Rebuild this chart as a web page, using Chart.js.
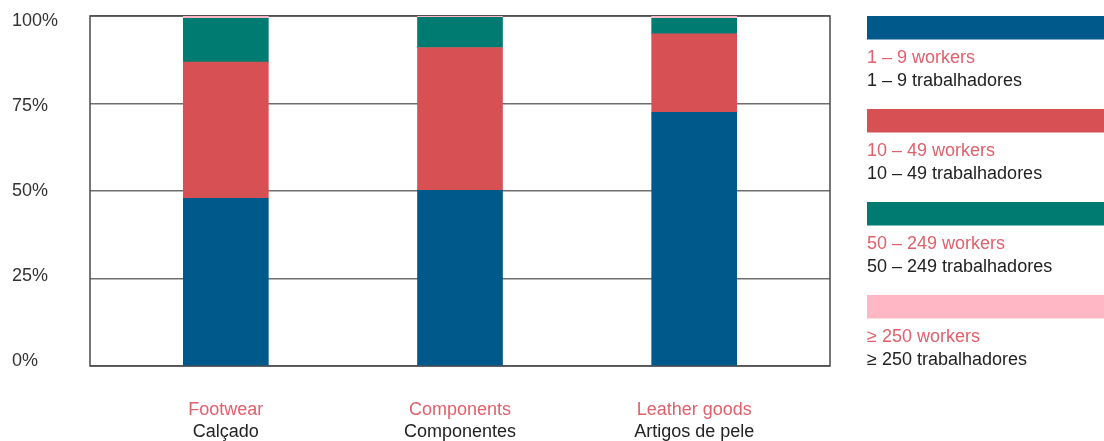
<!DOCTYPE html>
<html>
<head>
<meta charset="utf-8">
<title>Company size by sector</title>
<script src="https://cdn.jsdelivr.net/npm/chart.js@4/dist/chart.umd.min.js"></script>
<style>
  html, body { margin: 0; padding: 0; background: #ffffff; }
  #wrap { width: 1104px; height: 441px; position: relative; }
</style>
</head>
<body>
<div id="wrap"><canvas id="chart" width="1104" height="441"></canvas></div>
<script>
// Sectors (English / Portuguese)
const categoriesEn = ['Footwear', 'Components', 'Leather goods'];
const categoriesPt = ['Calçado', 'Componentes', 'Artigos de pele'];

// Company size classes (English / Portuguese)
const seriesEn = ['1 – 9 workers', '10 – 49 workers', '50 – 249 workers', '≥ 250 workers'];
const seriesPt = ['1 – 9 trabalhadores', '10 – 49 trabalhadores', '50 – 249 trabalhadores', '≥ 250 trabalhadores'];
const seriesColors = ['#00598b', '#d75054', '#007b72', '#ffb7c5'];

// Share of companies (%) per sector
const micro  = [47.9, 50.2, 72.5];
const small  = [38.9, 40.8, 22.4];
const medium = [12.5, 8.6, 4.4];
const large  = [0.7, 0.4, 0.7];

// Value axis ticks
const yTicks = [0, 25, 50, 75, 100];

const FONT = '"Liberation Sans", Arial, Helvetica, sans-serif';
const FONT_SIZE = 18;
const RED_TEXT = '#e0606b';
const DARK_TEXT = '#222222';

const seriesValues = [micro, small, medium, large];
const datasets = seriesValues.map((vals, s) => ({
  label: seriesEn[s],
  data: vals.map((v, i) => ({ x: i, y: v })),
  backgroundColor: seriesColors[s],
  borderWidth: 0,
  barThickness: 85
}));

// Frame around the plot area, drawn beneath the bars
const framePlugin = {
  id: 'frame',
  beforeDatasetsDraw(chart) {
    const { ctx, chartArea: a } = chart;
    ctx.save();
    ctx.strokeStyle = '#4a4a4a';
    ctx.lineWidth = 1.5;
    ctx.strokeRect(a.left, a.top, a.right - a.left, a.bottom - a.top);
    ctx.restore();
  }
};

// Percentage labels, left-aligned, pulled slightly toward the middle of the axis
const yLabels = {
  id: 'yLabels',
  afterDraw(chart) {
    const { ctx } = chart;
    const y = chart.scales.y;
    const mid = y.getPixelForValue(50);
    ctx.save();
    ctx.font = FONT_SIZE + 'px ' + FONT;
    ctx.textAlign = 'left';
    ctx.textBaseline = 'middle';
    ctx.fillStyle = '#333333';
    yTicks.forEach(v => {
      const py = mid + (y.getPixelForValue(v) - mid) * 0.97;
      ctx.fillText(v + '%', 12, py);
    });
    ctx.restore();
  }
};

// Two-line bilingual sector labels under the bars
const sectorLabels = {
  id: 'sectorLabels',
  afterDraw(chart) {
    const { ctx } = chart;
    const x = chart.scales.x;
    ctx.save();
    ctx.font = FONT_SIZE + 'px ' + FONT;
    ctx.textAlign = 'center';
    ctx.textBaseline = 'middle';
    categoriesEn.forEach((c, i) => {
      const px = x.getPixelForValue(i);
      ctx.fillStyle = RED_TEXT;
      ctx.fillText(c, px, 410);
      ctx.fillStyle = DARK_TEXT;
      ctx.fillText(categoriesPt[i], px, 432);
    });
    ctx.restore();
  }
};

// Legend: colour band followed by the bilingual class names
const sideLegend = {
  id: 'sideLegend',
  afterDraw(chart) {
    const { ctx } = chart;
    const left = 867;
    const step = 93;
    ctx.save();
    ctx.font = FONT_SIZE + 'px ' + FONT;
    ctx.textAlign = 'left';
    ctx.textBaseline = 'middle';
    seriesEn.forEach((name, s) => {
      const top = 16 + s * step;
      ctx.fillStyle = seriesColors[s];
      ctx.fillRect(left, top, 1104 - left, 23.5);
      ctx.fillStyle = RED_TEXT;
      ctx.fillText(name, left, top + 42);
      ctx.fillStyle = DARK_TEXT;
      ctx.fillText(seriesPt[s], left, top + 65);
    });
    ctx.restore();
  }
};

new Chart(document.getElementById('chart'), {
  type: 'bar',
  data: { datasets },
  plugins: [framePlugin, yLabels, sectorLabels, sideLegend],
  options: {
    responsive: false,
    animation: false,
    events: [],
    layout: { padding: { left: 12, top: 16, right: 274, bottom: 75 } },
    plugins: { legend: { display: false }, tooltip: { enabled: false } },
    scales: {
      x: {
        type: 'linear',
        min: -0.58,
        max: 2.58,
        offset: false,
        stacked: true,
        display: false
      },
      y: {
        stacked: true,
        min: 0,
        max: 100,
        afterBuildTicks(scale) {
          scale.ticks = yTicks.map(v => ({ value: v }));
        },
        afterFit(scale) { scale.width = 78; },
        border: { display: false },
        grid: { color: '#6e6e6e', lineWidth: 1.5, drawTicks: false },
        ticks: { display: false }
      }
    }
  }
});
</script>
</body>
</html>
